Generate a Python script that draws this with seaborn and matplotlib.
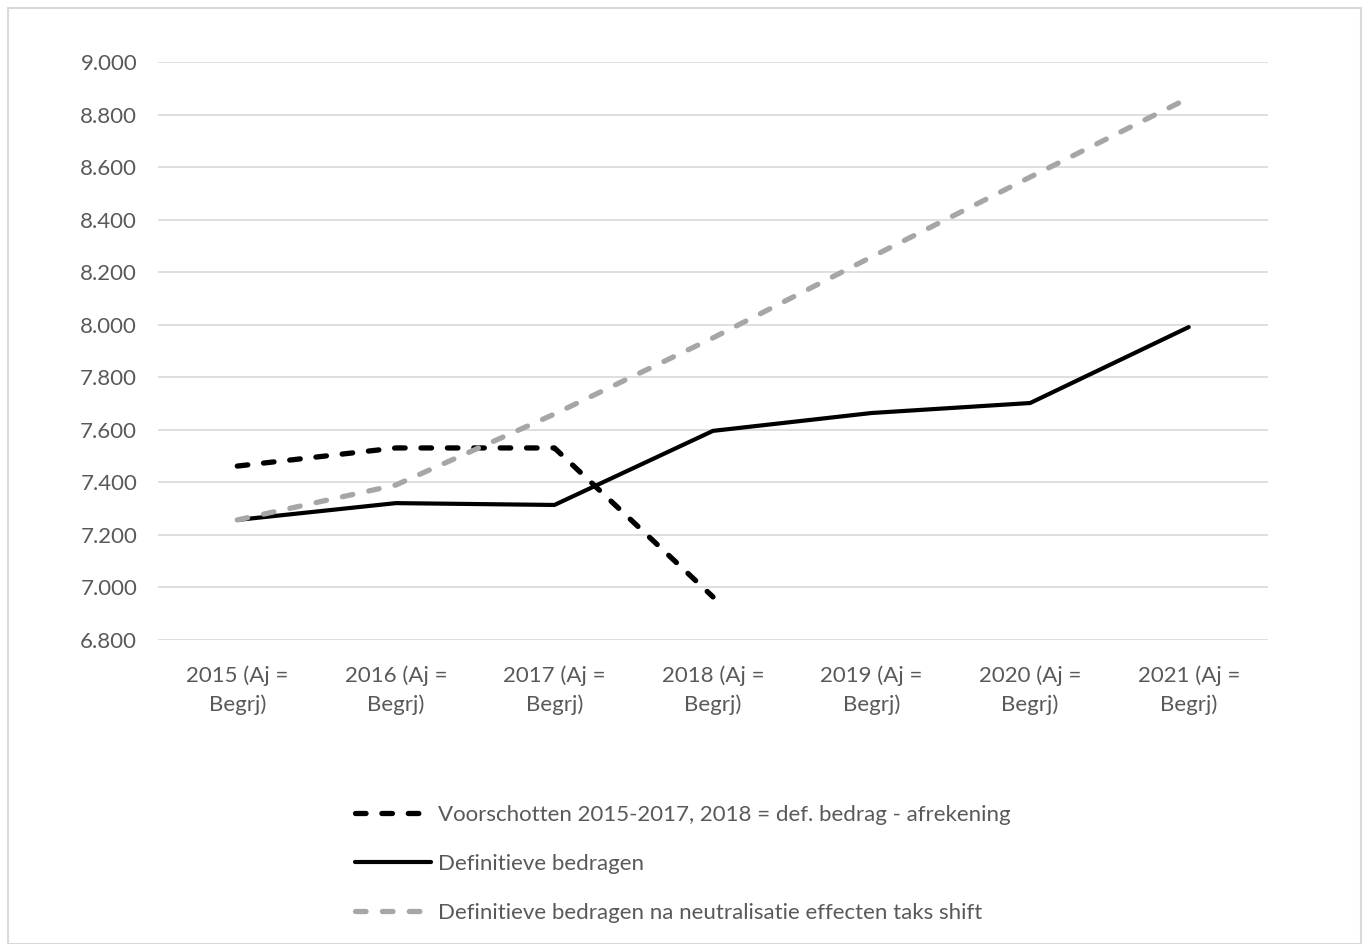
import matplotlib
matplotlib.use("Agg")
import matplotlib.pyplot as plt
import seaborn as sns
import numpy as np
import pandas as pd
from matplotlib.ticker import FuncFormatter, MultipleLocator

categories = ["2015 (Aj =\nBegrj)", "2016 (Aj =\nBegrj)", "2017 (Aj =\nBegrj)", "2018 (Aj =\nBegrj)",
              "2019 (Aj =\nBegrj)", "2020 (Aj =\nBegrj)", "2021 (Aj =\nBegrj)"]
voorschotten = [7462, 7531, 7531, 6964, np.nan, np.nan, np.nan]
definitief = [7257, 7321, 7314, 7596, 7664, 7702, 7991]
neutralisatie = [7257, 7390, 7660, 7950, 8258, 8562, 8863]

labels = ["Voorschotten 2015-2017, 2018 = def. bedrag - afrekening",
          "Definitieve bedragen",
          "Definitieve bedragen na neutralisatie effecten taks shift"]

sns.set_theme(style="white")
plt.rcParams['font.family'] = ['Lato', 'DejaVu Sans']

fig = plt.figure(figsize=(13.69, 9.44), dpi=100)
ax = fig.add_axes([158/1369, 1-640/944, (1268-158)/1369, (640-62)/944])

x = np.arange(len(categories))
series = [(voorschotten, "#000000", (2.0, 3.0)), (definitief, "#000000", None),
          (neutralisatie, "#a6a6a6", (2.0, 3.1))]
widths = [3.8, 3.0, 3.8]
for (vals, col, dash), lab, lw in zip(series, labels, widths):
    df = pd.DataFrame({"x": x, "y": vals})
    sns.lineplot(data=df, x="x", y="y", ax=ax, color=col, linewidth=lw, label=lab)
    line = ax.lines[-1]
    if dash is not None:
        line.set_dashes(dash)
        line.set_dash_capstyle('round')
    line.set_solid_capstyle('round')
    line.set_solid_joinstyle('round')

ax.set_xlim(-0.5, 6.5)
ax.set_ylim(6800, 9000)
ax.yaxis.set_major_locator(MultipleLocator(200))
ax.yaxis.set_major_formatter(FuncFormatter(lambda v, p: f"{v:,.0f}".replace(",", ".")))
ax.set_xticks(x)
ax.set_xticklabels(categories, linespacing=1.55)
ax.set_xlabel("")
ax.set_ylabel("")
ax.grid(axis="y", color="#d9d9d9", linewidth=1.2)
ax.set_axisbelow(True)
for s in ax.spines.values():
    s.set_visible(False)
ax.tick_params(axis="both", length=0, labelsize=16, labelcolor="#595959")
ax.tick_params(axis="y", pad=15)
ax.tick_params(axis="x", pad=18)

ax.get_legend().remove()
handles, labs = ax.get_legend_handles_labels()
leg = fig.legend(handles, labs, loc="upper left", bbox_to_anchor=(335/1369, 1-785/944),
                 frameon=False, fontsize=16, handlelength=3.4, handletextpad=0.35,
                 labelspacing=1.3, labelcolor="#595959")

# figure border
fig.patches.append(plt.Rectangle((8/1369, 0), 1-16/1369, 1-8/944, transform=fig.transFigure,
                                 fill=False, edgecolor="#d9d9d9", linewidth=1.5))

fig.savefig("out.png", dpi=100, facecolor="white")
